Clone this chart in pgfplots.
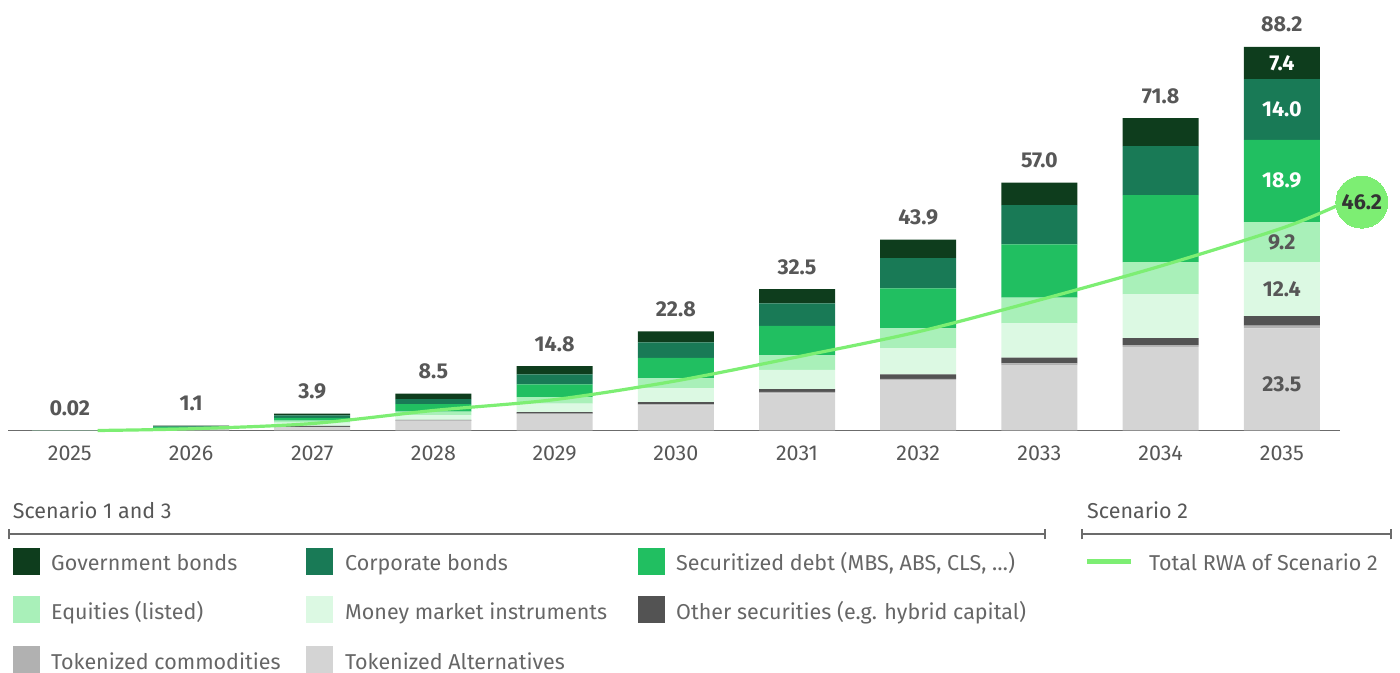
\documentclass[border=0pt]{standalone}
\usepackage{pgfplots}
\pgfplotsset{compat=1.18}
\usepackage{pgfplotstable}
\usepackage{fontspec}
\setmainfont{Fira Sans}
\definecolor{cgov}{HTML}{0E3D1D}
\definecolor{ccorp}{HTML}{197A56}
\definecolor{csec}{HTML}{21BF61}
\definecolor{ceq}{HTML}{A9F0B9}
\definecolor{cmm}{HTML}{DCF9E3}
\definecolor{coth}{HTML}{535353}
\definecolor{ccom}{HTML}{B1B1B1}
\definecolor{calt}{HTML}{D4D4D4}
\definecolor{cline}{HTML}{7DEE73}
\definecolor{ctxt}{HTML}{575757}
\definecolor{cleg}{HTML}{666666}
\definecolor{caxis}{HTML}{6B6B6B}
\definecolor{cdark}{HTML}{333333}
\newcommand\fnum{\fontsize{21.5bp}{26bp}\selectfont\bfseries}
\newcommand\freg{\fontsize{21.5bp}{26bp}\selectfont}

\pgfplotstableread{
x alt comm other money eq sec corp govt
0 0.005 0.001 0.001 0.003 0.002 0.004 0.002 0.002
1 0.23 0.02 0.05 0.20 0.12 0.20 0.15 0.13
2 0.80 0.05 0.20 0.75 0.45 0.65 0.55 0.45
3 2.20 0.10 0.15 1.00 0.90 1.70 1.15 1.30
4 3.80 0.10 0.35 1.95 1.50 2.90 2.30 1.90
5 5.80 0.20 0.55 3.15 2.30 4.70 3.55 2.55
6 8.53 0.37 0.60 4.45 3.30 6.80 5.15 3.30
7 11.60 0.25 1.05 6.05 4.50 9.25 6.90 4.30
8 15.00 0.45 1.30 7.90 5.90 12.25 9.00 5.20
9 19.25 0.40 1.60 10.10 7.35 15.40 11.25 6.45
10 23.50 0.60 2.20 12.40 9.20 18.90 14.00 7.40
}\bars

\pgfplotstableread{
x y
0.23 0
1 0.4
2 1.6
3 4.6
4 7.1
5 11.4
6 16.9
7 22.7
8 30.0
9 37.8
10 46.5
10.45 51.6
}\linedata

\begin{document}
\begin{tikzpicture}
\useasboundingbox (0,0) rectangle (1400bp,673bp);
\begin{axis}[
  at={(8bp,242.5bp)}, anchor=south west, scale only axis,
  width=1332bp, height=391.5bp,
  xmin=-0.51, xmax=10.48, ymin=0, ymax=90, clip=false,
  ybar stacked, bar width=76bp,
  axis x line=bottom, axis y line=none,
  axis line style={-, draw=caxis, line width=1.4bp},
  xtick={0,1,2,3,4,5,6,7,8,9,10},
  xticklabels={2025,2026,2027,2028,2029,2030,2031,2032,2033,2034,2035},
  major tick length=0pt,
  xticklabel style={font=\freg, text=ctxt, anchor=north, inner sep=0pt, yshift=-15bp},
  ytick=\empty,
]
\addplot[fill=calt, draw=none] table[x=x, y=alt]{\bars};
\addplot[fill=ccom, draw=none] table[x=x, y=comm]{\bars};
\addplot[fill=coth, draw=none] table[x=x, y=other]{\bars};
\addplot[fill=cmm, draw=none] table[x=x, y=money]{\bars};
\addplot[fill=ceq, draw=none] table[x=x, y=eq]{\bars};
\addplot[fill=csec, draw=none] table[x=x, y=sec]{\bars};
\addplot[fill=ccorp, draw=none] table[x=x, y=corp]{\bars};
\addplot[fill=cgov, draw=none] table[x=x, y=govt]{\bars};

\node[anchor=base, inner sep=0pt, font=\fnum, text=ctxt, yshift=15bp] at (axis cs:0,0.02) {0.02};
\node[anchor=base, inner sep=0pt, font=\fnum, text=ctxt, yshift=15bp] at (axis cs:1,1.1) {1.1};
\node[anchor=base, inner sep=0pt, font=\fnum, text=ctxt, yshift=15bp] at (axis cs:2,3.9) {3.9};
\node[anchor=base, inner sep=0pt, font=\fnum, text=ctxt, yshift=15bp] at (axis cs:3,8.5) {8.5};
\node[anchor=base, inner sep=0pt, font=\fnum, text=ctxt, yshift=15bp] at (axis cs:4,14.8) {14.8};
\node[anchor=base, inner sep=0pt, font=\fnum, text=ctxt, yshift=15bp] at (axis cs:5,22.8) {22.8};
\node[anchor=base, inner sep=0pt, font=\fnum, text=ctxt, yshift=15bp] at (axis cs:6,32.5) {32.5};
\node[anchor=base, inner sep=0pt, font=\fnum, text=ctxt, yshift=15bp] at (axis cs:7,43.9) {43.9};
\node[anchor=base, inner sep=0pt, font=\fnum, text=ctxt, yshift=15bp] at (axis cs:8,57.0) {57.0};
\node[anchor=base, inner sep=0pt, font=\fnum, text=ctxt, yshift=15bp] at (axis cs:9,71.8) {71.8};
\node[anchor=base, inner sep=0pt, font=\fnum, text=ctxt, yshift=15bp] at (axis cs:10,88.2) {88.2};
\end{axis}

\begin{axis}[
  at={(8bp,242.5bp)}, anchor=south west, scale only axis,
  width=1332bp, height=391.5bp,
  xmin=-0.51, xmax=10.48, ymin=0, ymax=90, clip=false,
  hide axis,
]
\node[inner sep=0pt, font=\fnum, text=white] at (axis cs:10,84.5) {7.4};
\node[inner sep=0pt, font=\fnum, text=white] at (axis cs:10,73.8) {14.0};
\node[inner sep=0pt, font=\fnum, text=white] at (axis cs:10,57.4) {18.9};
\node[inner sep=0pt, font=\fnum, text=ctxt] at (axis cs:10,43.2) {9.2};
\node[inner sep=0pt, font=\fnum, text=ctxt] at (axis cs:10,32.4) {12.4};
\node[inner sep=0pt, font=\fnum, text=ctxt] at (axis cs:10,10.6) {23.5};
\addplot[cline, line width=3.2bp, smooth, mark=none] table[x=x, y=y]{\linedata};
\addplot[cline, only marks, mark=*, mark size=26bp, mark options={fill=cline, draw=cline, line width=0pt},
  nodes near coords, point meta=explicit symbolic,
  every node near coord/.append style={anchor=center, inner sep=0pt, font=\fnum, text=cdark}]
  coordinates {(10.66,52.5) [46.2]};
\end{axis}

% legend
\node[anchor=base west, inner sep=0pt, font=\freg, text=ctxt] at (12.7bp,154.7bp) {Scenario 1 and 3};
\node[anchor=base west, inner sep=0pt, font=\freg, text=ctxt] at (1087bp,154.7bp) {Scenario 2};
\draw[caxis, line width=1.3bp] (9bp,139bp) -- (1045bp,139bp);
\draw[caxis, line width=1.3bp] (9bp,133.5bp) -- (9bp,144bp);
\draw[caxis, line width=1.3bp] (1045bp,133.5bp) -- (1045bp,144bp);
\draw[caxis, line width=1.3bp] (1082bp,139bp) -- (1391bp,139bp);
\draw[caxis, line width=1.3bp] (1082bp,133.5bp) -- (1082bp,144bp);
\draw[caxis, line width=1.3bp] (1391bp,133.5bp) -- (1391bp,144bp);

\fill[cgov] (13.4bp,97.8bp) rectangle (40.4bp,124.8bp);
\fill[ccorp] (306bp,97.8bp) rectangle (333bp,124.8bp);
\fill[csec] (638bp,97.8bp) rectangle (665bp,124.8bp);
\fill[ceq] (13.4bp,49.5bp) rectangle (40.4bp,76.5bp);
\fill[cmm] (306bp,49.5bp) rectangle (333bp,76.5bp);
\fill[coth] (638bp,49.5bp) rectangle (665bp,76.5bp);
\fill[ccom] (13.4bp,0.3bp) rectangle (40.4bp,27bp);
\fill[calt] (306bp,0.3bp) rectangle (333bp,27bp);
\draw[cline, line width=5bp] (1087bp,111bp) -- (1131bp,111bp);

\node[anchor=base west, inner sep=0pt, font=\freg, text=cleg] at (51bp,102bp) {Government bonds};
\node[anchor=base west, inner sep=0pt, font=\freg, text=cleg] at (345bp,102bp) {Corporate bonds};
\node[anchor=base west, inner sep=0pt, font=\freg, text=cleg] at (676bp,102bp) {Securitized debt (MBS, ABS, CLS, …)};
\node[anchor=base west, inner sep=0pt, font=\freg, text=cleg] at (51bp,53.7bp) {Equities (listed)};
\node[anchor=base west, inner sep=0pt, font=\freg, text=cleg] at (345bp,53.7bp) {Money market instruments};
\node[anchor=base west, inner sep=0pt, font=\freg, text=cleg] at (676bp,53.7bp) {Other securities (e.g. hybrid capital)};
\node[anchor=base west, inner sep=0pt, font=\freg, text=cleg] at (51bp,4bp) {Tokenized commodities};
\node[anchor=base west, inner sep=0pt, font=\freg, text=cleg] at (345bp,4bp) {Tokenized Alternatives};
\node[anchor=base west, inner sep=0pt, font=\freg, text=cleg] at (1149bp,102bp) {Total RWA of Scenario 2};
\end{tikzpicture}
\end{document}
